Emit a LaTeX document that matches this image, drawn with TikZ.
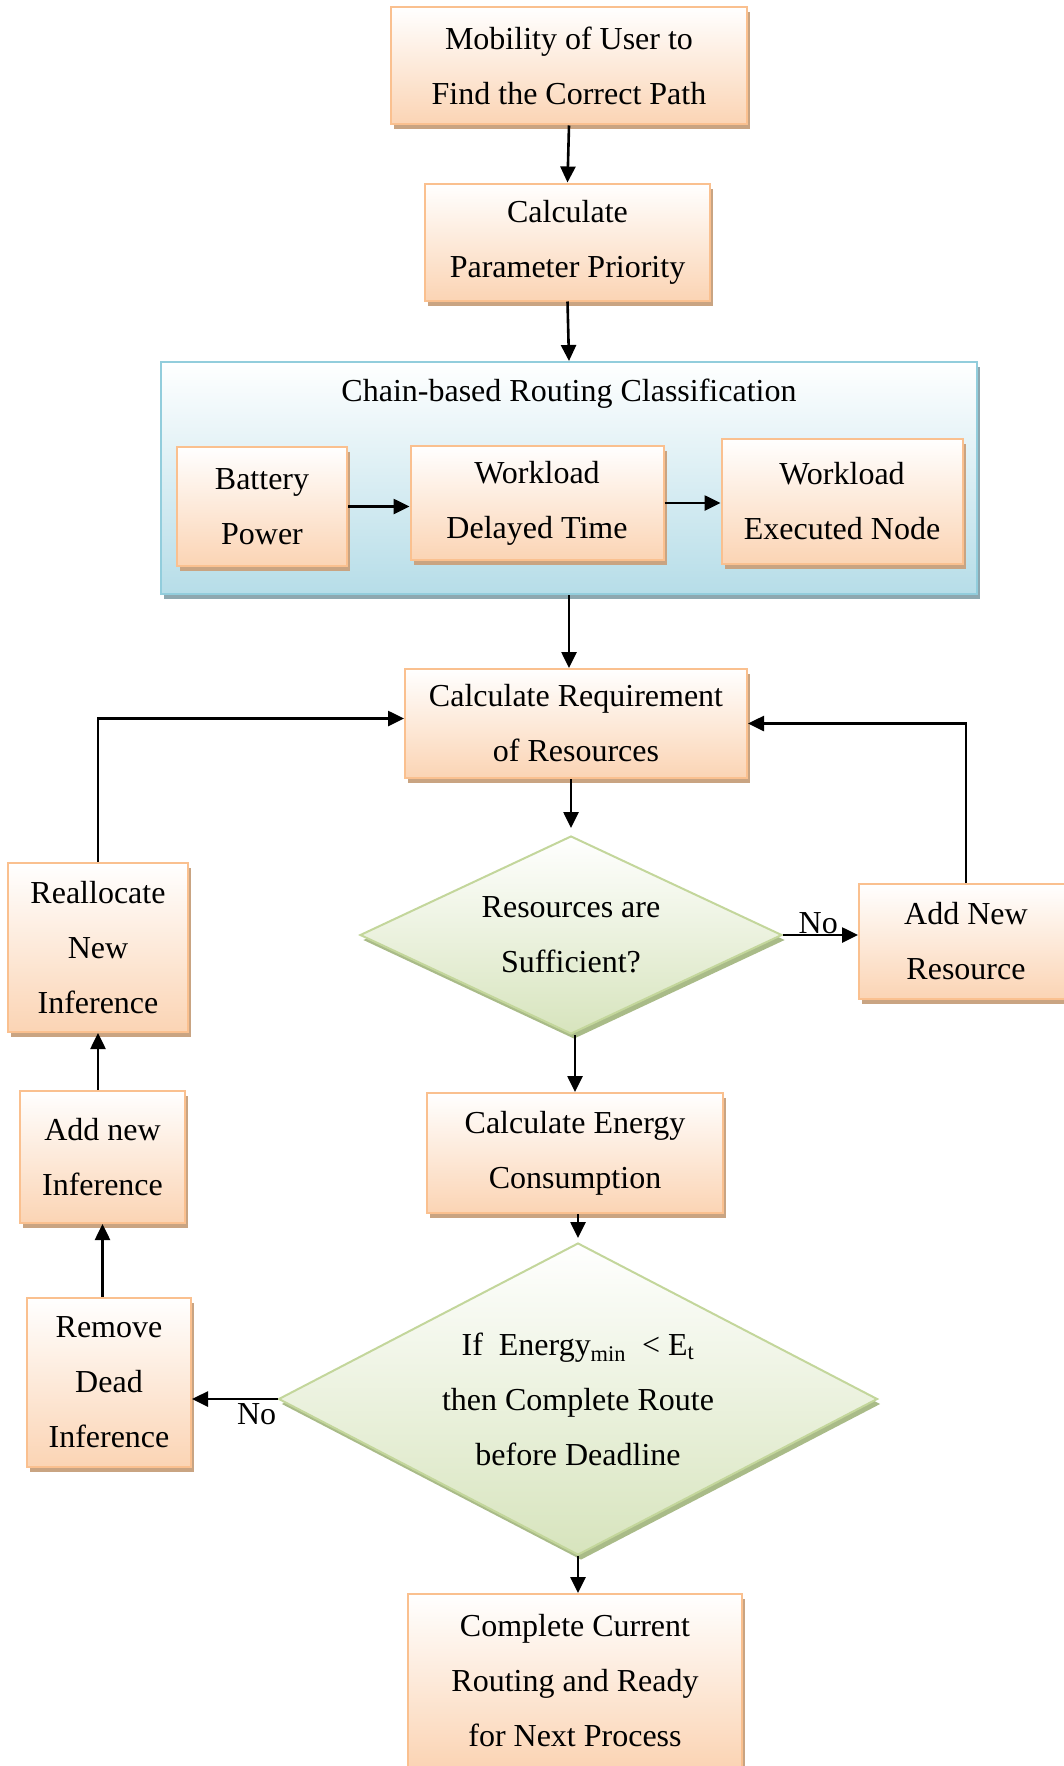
\documentclass[tikz,border=0pt]{standalone}
\usepackage{fontspec}
\setmainfont{Liberation Serif}
\usetikzlibrary{arrows.meta,shapes.geometric,shadows}

% palette
\definecolor{peach}{HTML}{FBD4B4}
\definecolor{peachedge}{HTML}{FAC08F}
\definecolor{peachshadow}{HTML}{C9A482}
\definecolor{skyfill}{HTML}{B6DDE8}
\definecolor{skyedge}{HTML}{92CDDC}
\definecolor{skyshadow}{HTML}{8EA8B0}
\definecolor{sage}{HTML}{D7E4BD}
\definecolor{sageedge}{HTML}{C3D69B}
\definecolor{sageshadow}{HTML}{A9BB88}

\begin{document}
\begin{tikzpicture}[x=1pt,y=-1pt,
  txt/.style={font=\fontsize{32}{55}\selectfont, align=center},
  lbl/.style={font=\fontsize{32}{38}\selectfont, inner sep=0pt},
  proc/.style={txt, rectangle, draw=peachedge, line width=2pt,
    top color=white, bottom color=peach, inner sep=0pt,
    drop shadow={shadow xshift=3pt, shadow yshift=-5pt, fill=peachshadow, opacity=1}},
  dec/.style={txt, diamond, draw=sageedge, line width=2pt,
    top color=white, bottom color=sage, inner sep=0pt,
    drop shadow={shadow xshift=3pt, shadow yshift=-5pt, fill=sageshadow, opacity=1}},
  group/.style={rectangle, draw=skyedge, line width=2pt,
    top color=white, bottom color=skyfill, inner sep=0pt,
    drop shadow={shadow xshift=3pt, shadow yshift=-5pt, fill=skyshadow, opacity=1}},
  arr/.style={line width=2.6pt, -{Triangle[length=16pt,width=15pt]}}
]
\useasboundingbox (0,0) rectangle (1063,1766);

% main column
\node[proc, minimum width=356pt, minimum height=117pt] (mob) at (569,66) {Mobility of User to\\Find the Correct Path};
\node[proc, minimum width=285pt, minimum height=117pt] (prio) at (567.5,242) {Calculate\\Parameter Priority};

% chain-based routing group
\node[group, minimum width=816pt, minimum height=232pt] (chain) at (569,478) {};
\node[txt] (chaintitle) at (569,394) {Chain-based Routing Classification};
\node[proc, minimum width=170pt, minimum height=119pt] (battery) at (262,506.5) {Battery\\Power};
\node[proc, minimum width=253pt, minimum height=114pt] (delay) at (537,503) {Workload\\Delayed Time};
\node[proc, minimum width=241pt, minimum height=125pt] (exec) at (842,501) {Workload\\Executed Node};

\node[proc, minimum width=342pt, minimum height=109pt] (req) at (576,723.5) {Calculate Requirement\\of Resources};
\node[dec, minimum width=422pt, minimum height=198pt, aspect=2.13] (suff) at (571,935) {Resources are\\Sufficient?};
\node[proc, minimum width=214pt, minimum height=115pt] (addres) at (966,941.5) {Add New\\Resource};

% left column
\node[proc, minimum width=180pt, minimum height=169pt] (realloc) at (98,947.5) {Reallocate\\New\\Inference};
\node[proc, minimum width=165pt, minimum height=132pt] (addinf) at (102.5,1157) {Add new\\Inference};
\node[proc, minimum width=164pt, minimum height=169pt] (remove) at (109,1382.5) {Remove\\Dead\\Inference};

\node[proc, minimum width=296pt, minimum height=120pt] (energy) at (575,1153) {Calculate Energy\\Consumption};
\node[dec, minimum width=599pt, minimum height=312pt, aspect=1.92] (deadline) at (578,1399)
  {If\ \ Energy\textsubscript{min}\ \ < E\textsubscript{t}\\then Complete Route\\before Deadline};
\node[proc, minimum width=334pt, minimum height=174pt] (final) at (575,1681) {Complete Current\\Routing and Ready\\for Next Process};

% connectors
\draw[arr] (mob.south) -- (prio.north);
\draw[arr] (prio.south) -- (chain.north);
\draw[arr] (battery.east) -- (battery.east -| delay.west);
\draw[arr] (delay.east) -- (delay.east -| exec.west);
\draw[arr] (chain.south) -- (chain.south |- req.north);
\draw[arr, shorten >=7pt] (req.south -| suff.north) -- (suff.north);
\draw[arr] (suff.east) -- (suff.east -| addres.west)
  node[lbl, pos=0.47, above] {No};
\draw[arr] (addres.north) |- (req.east);
\draw[arr] (realloc.north) |- ([yshift=5pt]req.west);
\draw[arr] (energy.north |- suff.south) -- (energy.north);
\draw[arr, shorten >=4pt] (deadline.north |- energy.south) -- (deadline.north);
\draw[arr] (deadline.west) -- (deadline.west -| remove.east)
  node[lbl, pos=0, anchor=north east, yshift=-3pt] {No};
\draw[arr] (addinf.south |- remove.north) -- (addinf.south);
\draw[arr] (realloc.south |- addinf.north) -- (realloc.south);
\draw[arr] (deadline.south) -- (deadline.south |- final.north);
\end{tikzpicture}
\end{document}
